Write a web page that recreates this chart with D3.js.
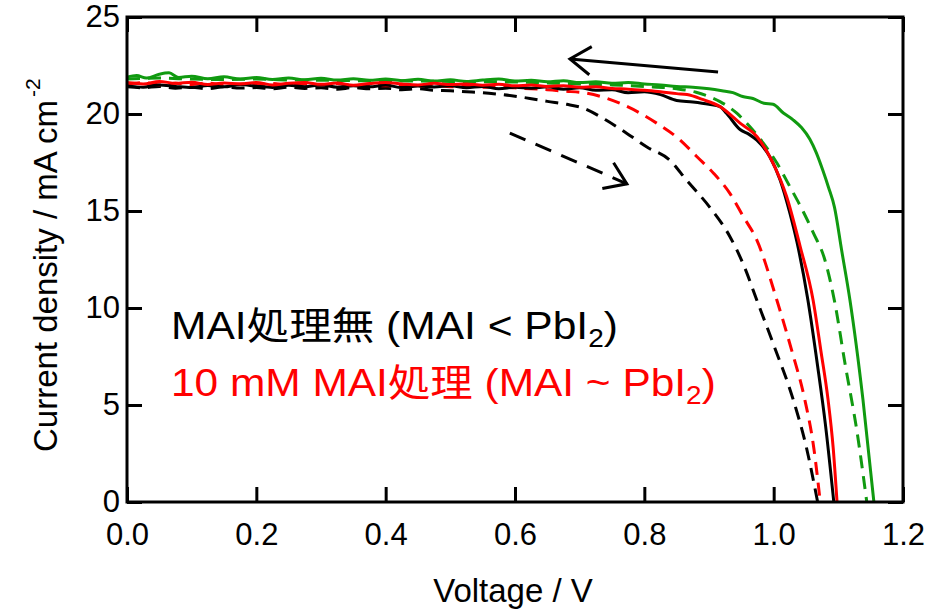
<!DOCTYPE html>
<html>
<head>
<meta charset="utf-8">
<script src="https://cdn.jsdelivr.net/npm/d3@7"></script>
<style>
  body { margin: 0; background: #fff; }
  svg { display: block; }
</style>
</head>
<body>
<div id="chart"></div>
<script>
// J-V curves, [voltage V, current density mA cm-2]
const blackRev = [[0,21.45],[0.025,21.38],[0.05,21.5],[0.075,21.42],[0.1,21.36],[0.125,21.47],[0.15,21.4],[0.175,21.52],[0.2,21.43],[0.225,21.37],[0.25,21.48],[0.275,21.41],[0.3,21.5],[0.325,21.38],[0.35,21.45],[0.375,21.4],[0.4,21.49],[0.425,21.36],[0.45,21.44],[0.475,21.39],[0.5,21.46],[0.525,21.35],[0.55,21.42],[0.575,21.3],[0.6,21.38],[0.625,21.33],[0.65,21.4],[0.675,21.28],[0.7,21.35],[0.725,21.22],[0.75,21.25],[0.775,21.1],[0.8,21.15],[0.825,21.0],[0.85,20.7],[0.875,20.62],[0.9,20.5],[0.917,20.38],[0.927,20.04],[0.948,19.2],[0.962,18.95],[0.974,18.65],[0.994,17.8],[1.01,16.6],[1.025,14.9],[1.036,13.4],[1.053,10.4],[1.068,7.0],[1.08,4.0],[1.093,0]];
const blackFwd = [[0,21.4],[0.025,21.35],[0.05,21.42],[0.075,21.33],[0.1,21.38],[0.125,21.3],[0.15,21.4],[0.175,21.34],[0.2,21.36],[0.225,21.3],[0.25,21.38],[0.275,21.32],[0.3,21.35],[0.325,21.28],[0.35,21.36],[0.375,21.3],[0.4,21.33],[0.425,21.25],[0.45,21.3],[0.475,21.22],[0.5,21.2],[0.525,21.15],[0.55,21.1],[0.575,21.02],[0.6,20.92],[0.623,20.8],[0.65,20.65],[0.68,20.5],[0.706,20.3],[0.74,19.7],[0.773,19.0],[0.804,18.3],[0.84,17.6],[0.865,16.6],[0.901,15.2],[0.932,13.7],[0.955,12.1],[0.974,10.4],[1.0,8.1],[1.03,5.3],[1.05,2.9],[1.068,0]];
const redRev = [[0,21.62],[0.025,21.55],[0.05,21.68],[0.075,21.58],[0.1,21.64],[0.125,21.52],[0.15,21.6],[0.175,21.55],[0.2,21.63],[0.225,21.5],[0.25,21.58],[0.275,21.62],[0.3,21.53],[0.325,21.6],[0.35,21.48],[0.375,21.57],[0.4,21.62],[0.425,21.55],[0.45,21.5],[0.475,21.58],[0.5,21.52],[0.525,21.55],[0.55,21.48],[0.575,21.53],[0.6,21.45],[0.625,21.5],[0.65,21.42],[0.675,21.46],[0.7,21.38],[0.725,21.4],[0.75,21.32],[0.775,21.28],[0.8,21.22],[0.825,21.15],[0.85,21.05],[0.866,21.0],[0.89,20.75],[0.917,20.38],[0.948,19.53],[0.974,18.84],[0.999,17.47],[1.02,15.75],[1.041,13.17],[1.061,10.4],[1.073,7.8],[1.084,5.3],[1.092,2.8],[1.098,0]];
const redFwd = [[0,21.55],[0.025,21.62],[0.05,21.5],[0.075,21.58],[0.1,21.52],[0.125,21.6],[0.15,21.48],[0.175,21.55],[0.2,21.5],[0.225,21.57],[0.25,21.47],[0.275,21.54],[0.3,21.49],[0.325,21.56],[0.35,21.46],[0.375,21.52],[0.4,21.45],[0.425,21.5],[0.45,21.43],[0.475,21.48],[0.5,21.4],[0.525,21.45],[0.55,21.38],[0.575,21.4],[0.6,21.35],[0.625,21.3],[0.65,21.25],[0.675,21.18],[0.711,21.07],[0.768,20.47],[0.819,19.53],[0.855,18.67],[0.881,17.81],[0.907,16.95],[0.932,15.92],[0.953,14.72],[0.974,13.5],[1.005,10.4],[1.028,7.8],[1.048,5.3],[1.062,2.8],[1.072,0]];
const greenRev = [[0,21.9],[0.015,21.98],[0.03,21.85],[0.05,22.05],[0.065,22.12],[0.08,21.88],[0.1,21.95],[0.125,21.82],[0.15,21.92],[0.175,21.8],[0.2,21.88],[0.225,21.78],[0.25,21.85],[0.275,21.76],[0.3,21.84],[0.325,21.75],[0.35,21.82],[0.375,21.74],[0.4,21.8],[0.425,21.72],[0.45,21.79],[0.475,21.7],[0.5,21.76],[0.525,21.68],[0.55,21.75],[0.575,21.8],[0.6,21.7],[0.625,21.74],[0.65,21.66],[0.675,21.72],[0.7,21.62],[0.725,21.66],[0.75,21.58],[0.775,21.62],[0.8,21.55],[0.825,21.5],[0.85,21.42],[0.875,21.38],[0.9,21.3],[0.92,21.2],[0.937,21.1],[0.952,20.9],[0.968,20.8],[0.985,20.55],[0.999,20.5],[1.015,20.05],[1.03,19.7],[1.043,19.3],[1.056,18.7],[1.066,18.0],[1.076,17.1],[1.085,16.2],[1.094,15.2],[1.105,13.0],[1.118,10.4],[1.138,5.3],[1.155,0]];
const greenFwd = [[0,21.8],[0.05,21.85],[0.1,21.8],[0.15,21.78],[0.2,21.8],[0.25,21.75],[0.3,21.74],[0.35,21.72],[0.4,21.72],[0.45,21.7],[0.5,21.68],[0.55,21.66],[0.6,21.65],[0.65,21.6],[0.7,21.55],[0.75,21.5],[0.8,21.42],[0.85,21.3],[0.88,21.12],[0.9,20.9],[0.917,20.64],[0.943,20.04],[0.963,19.35],[0.984,18.5],[1.005,17.47],[1.025,16.26],[1.046,14.95],[1.061,13.9],[1.079,12.5],[1.095,10.2],[1.11,7.2],[1.129,3.6],[1.144,0]];

const series = [
  {name: "blackFwd", data: blackFwd, color: "#000000", dashed: true},
  {name: "redFwd", data: redFwd, color: "#ff0000", dashed: true},
  {name: "greenFwd", data: greenFwd, color: "#109a10", dashed: true},
  {name: "blackRev", data: blackRev, color: "#000000", dashed: false},
  {name: "greenRev", data: greenRev, color: "#109a10", dashed: false},
  {name: "redRev", data: redRev, color: "#ff0000", dashed: false}
];

const xTicks = [0, 0.2, 0.4, 0.6, 0.8, 1.0, 1.2];
const yTicks = [0, 5, 10, 15, 20, 25];

// scan direction arrows, [V, J] tail -> head
const arrowRev = [[0.914, 22.17], [0.685, 22.84]];
const arrowFwd = [[0.592, 19.02], [0.773, 16.4]];

const width = 938, height = 609;
const margin = {top: 17, right: 35, bottom: 107, left: 127};
const font = "'Liberation Sans', Arial, sans-serif";

const svg = d3.select("#chart").append("svg")
  .attr("width", width).attr("height", height);

const x = d3.scaleLinear().domain([0, 1.2]).range([margin.left, width - margin.right]);
const y = d3.scaleLinear().domain([0, 25]).range([height - margin.bottom, margin.top]);

const tickLen = 15;

const styleAxis = (g) => {
  g.select(".domain").remove();
  g.selectAll(".tick line").attr("stroke", "#000").attr("stroke-width", 3);
  g.selectAll(".tick text").attr("fill", "#000").attr("font-family", font).attr("font-size", 31);
};

svg.append("g")
  .attr("transform", `translate(0,${y(0)})`)
  .call(d3.axisBottom(x).tickValues(xTicks).tickFormat(d3.format(".1f")).tickSizeInner(-tickLen).tickSizeOuter(0).tickPadding(21))
  .call(styleAxis);

svg.append("g")
  .attr("transform", `translate(0,${y(25)})`)
  .call(d3.axisTop(x).tickValues(xTicks).tickFormat("").tickSizeInner(-tickLen).tickSizeOuter(0))
  .call(styleAxis);

svg.append("g")
  .attr("transform", `translate(${x(0)},0)`)
  .call(d3.axisLeft(y).tickValues(yTicks).tickFormat(d3.format("d")).tickSizeInner(-tickLen).tickSizeOuter(0).tickPadding(7))
  .call(styleAxis);

svg.append("g")
  .attr("transform", `translate(${x(1.2)},0)`)
  .call(d3.axisRight(y).tickValues(yTicks).tickFormat("").tickSizeInner(-tickLen).tickSizeOuter(0))
  .call(styleAxis);

// curves
const line = d3.line()
  .x((d) => x(d[0]))
  .y((d) => y(d[1]))
  .curve(d3.curveMonotoneX);

svg.append("g").attr("class", "curves")
  .selectAll("path")
  .data(series)
  .join("path")
  .attr("d", (d) => line(d.data))
  .attr("fill", "none")
  .attr("stroke", (d) => d.color)
  .attr("stroke-width", 3)
  .attr("stroke-linejoin", "round")
  .attr("stroke-dasharray", (d) => d.dashed ? "13,8" : null);

// frame
svg.append("rect")
  .attr("x", x(0)).attr("y", y(25))
  .attr("width", x(1.2) - x(0)).attr("height", y(0) - y(25))
  .attr("fill", "none").attr("stroke", "#000").attr("stroke-width", 3);

// arrows
const drawArrow = (pts, dashed) => {
  const [x1, y1] = [x(pts[0][0]), y(pts[0][1])];
  const [x2, y2] = [x(pts[1][0]), y(pts[1][1])];
  const ang = Math.atan2(y1 - y2, x1 - x2);
  const len = 25, spread = 0.6;
  const g = svg.append("g").attr("stroke", "#000").attr("stroke-width", 3).attr("fill", "none");
  g.append("line").attr("x1", x1).attr("y1", y1).attr("x2", x2).attr("y2", y2)
    .attr("stroke-dasharray", dashed ? "17,11" : null);
  g.append("path")
    .attr("stroke-linejoin", "miter")
    .attr("d", `M${x2 + len * Math.cos(ang + spread)},${y2 + len * Math.sin(ang + spread)}L${x2},${y2}L${x2 + len * Math.cos(ang - spread)},${y2 + len * Math.sin(ang - spread)}`);
};
drawArrow(arrowRev, false);
drawArrow(arrowFwd, true);

// legend text
const legend = [
  {parts: [["MAI", 0], ["処理無", 0], [" (MAI < PbI", 0], ["2", 1], [")", 0]], color: "#000", baseline: 339, width: 447},
  {parts: [["10 mM MAI", 0], ["処理", 0], [" (MAI ~ PbI", 0], ["2", 1], [")", 0]], color: "#ff0000", baseline: 396, width: 545}
];
const legendLeft = 171;
legend.forEach((l) => {
  const g = svg.append("g");
  const t = g.append("text")
    .attr("x", 0).attr("y", 0)
    .attr("fill", l.color)
    .attr("font-family", "'Liberation Sans', Arial, 'Noto Sans CJK JP', sans-serif")
    .attr("font-size", 38);
  l.parts.forEach(([s, sub]) => {
    const ts = t.append("tspan").text(s);
    if (sub) ts.attr("font-size", 25).attr("dy", 8);
    else if (s === ")") ts.attr("dy", -8);
  });
  const w = t.node().getComputedTextLength();
  g.attr("transform", `translate(${legendLeft},${l.baseline}) scale(${l.width / w},1)`);
});

// axis titles
svg.append("text")
  .attr("x", (x(0) + x(1.2)) / 2 - 2)
  .attr("y", 602)
  .attr("text-anchor", "middle")
  .attr("font-family", font)
  .attr("font-size", 33)
  .attr("fill", "#000")
  .text("Voltage / V");

const yTitle = svg.append("text")
  .attr("transform", "translate(57,452) rotate(-90)")
  .attr("font-family", font)
  .attr("font-size", 33)
  .attr("fill", "#000");
yTitle.append("tspan").text("Current density / mA cm");
yTitle.append("tspan").attr("font-size", 21).attr("dy", -17).attr("dx", 3).text("-2");
</script>
</body>
</html>
